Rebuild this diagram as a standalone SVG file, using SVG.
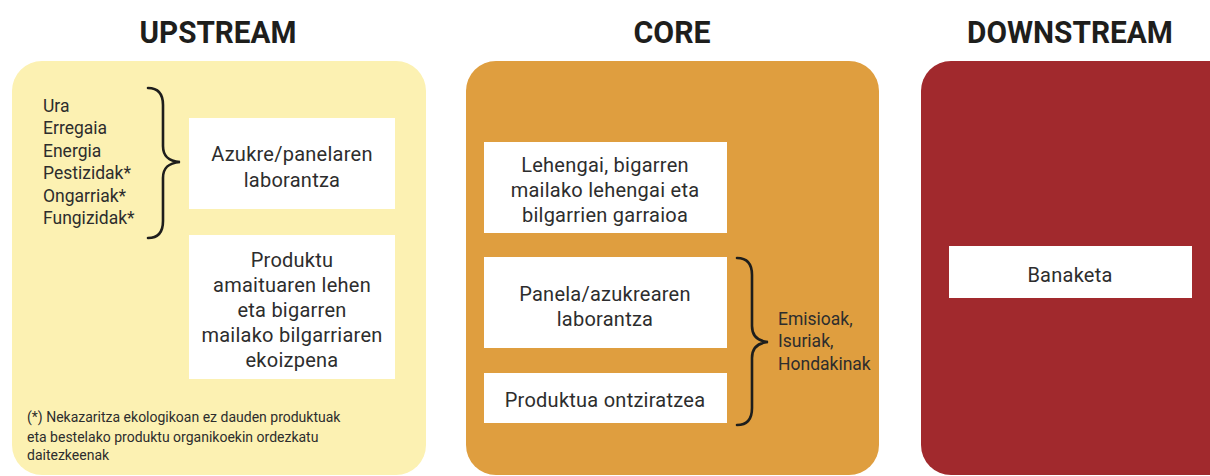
<svg xmlns="http://www.w3.org/2000/svg" width="1210" height="476" viewBox="0 0 1210 476">
<style>
.h{font-family:Roboto,"Liberation Sans",sans-serif;font-weight:700;font-size:31px;fill:#1e1e1c;text-anchor:middle}
.t{font-family:Roboto,"Liberation Sans",sans-serif;font-size:20px;letter-spacing:0.25px;fill:#2d2d2d;text-anchor:middle}
.l{font-family:Roboto,"Liberation Sans",sans-serif;font-size:17.5px;fill:#2d2d2d}
.f{font-family:Roboto,"Liberation Sans",sans-serif;font-size:14px;fill:#2d2d2d}
.box{fill:#ffffff}
.brace{fill:none;stroke:#1e1e1c;stroke-width:2.6;stroke-linecap:round}
</style>
<rect width="1210" height="476" fill="#ffffff"/>
<g id="upstream">
<text class="h" x="218" y="43" textLength="157" lengthAdjust="spacingAndGlyphs">UPSTREAM</text>
<rect x="12" y="61" width="414" height="414" rx="30" fill="#fcf1b2"/>
<text class="l" x="43" y="112">Ura</text>
<text class="l" x="43" y="134">Erregaia</text>
<text class="l" x="43" y="157">Energia</text>
<text class="l" x="43" y="179">Pestizidak*</text>
<text class="l" x="43" y="202">Ongarriak*</text>
<text class="l" x="43" y="224">Fungizidak*</text>
<text class="f" x="27" y="422">(*) Nekazaritza ekologikoan ez dauden produktuak</text>
<text class="f" x="27" y="442">eta bestelako produktu organikoekin ordezkatu</text>
<text class="f" x="27" y="460">daitezkeenak</text>
</g>
<g id="node-azukre">
<rect class="box" x="189" y="118" width="206" height="91"/>
<text class="t" x="292" y="161">Azukre/panelaren</text>
<text class="t" x="292" y="187">laborantza</text>
</g>
<g id="node-produktu">
<rect class="box" x="189" y="235" width="206" height="144"/>
<text class="t" x="292" y="267">Produktu</text>
<text class="t" x="292" y="292">amaituaren lehen</text>
<text class="t" x="292" y="317">eta bigarren</text>
<text class="t" x="292" y="342">mailako bilgarriaren</text>
<text class="t" x="292" y="367">ekoizpena</text>
</g>
<g id="core">
<text class="h" x="672" y="43" textLength="77" lengthAdjust="spacingAndGlyphs">CORE</text>
<rect x="466" y="61" width="413" height="414" rx="30" fill="#df9e3f"/>
<text class="l" x="778" y="325">Emisioak,</text>
<text class="l" x="778" y="347">Isuriak,</text>
<text class="l" x="778" y="370">Hondakinak</text>
</g>
<g id="node-lehengai">
<rect class="box" x="484" y="142" width="243" height="91"/>
<text class="t" x="605" y="172">Lehengai, bigarren</text>
<text class="t" x="605" y="197">mailako lehengai eta</text>
<text class="t" x="605" y="222">bilgarrien garraioa</text>
</g>
<g id="node-panela">
<rect class="box" x="484" y="257" width="243" height="91"/>
<text class="t" x="605" y="301">Panela/azukrearen</text>
<text class="t" x="605" y="326">laborantza</text>
</g>
<g id="node-ontziratzea">
<rect class="box" x="484" y="373" width="243" height="50"/>
<text class="t" x="605" y="407">Produktua ontziratzea</text>
</g>
<g id="downstream">
<text class="h" x="1070" y="43" textLength="206" lengthAdjust="spacingAndGlyphs">DOWNSTREAM</text>
<rect x="921" y="61" width="330" height="414" rx="30" fill="#a1292d"/>
</g>
<g id="node-banaketa">
<rect class="box" x="949" y="246" width="243" height="52"/>
<text class="t" x="1070" y="282">Banaketa</text>
</g>
<g id="connectors">
<path class="brace" d="M148 88 C158 88 163 93 163 105 L163 146 C163 156 168 161 180 162 C168 163 163 168 163 178 L163 221 C163 233 158 238 148 238"/>
<path class="brace" d="M737 258 C747 258 752 263 752 275 L752 326 C752 336 757 341 768 342 C757 343 752 348 752 358 L752 408 C752 420 747 425 737 425"/>
</g>
</svg>
